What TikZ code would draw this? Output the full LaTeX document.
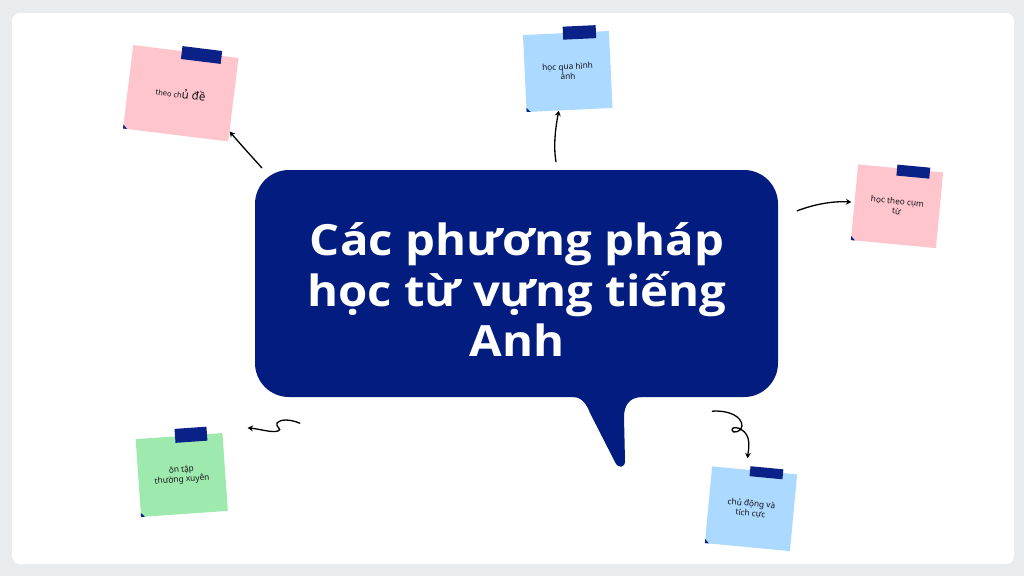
\documentclass[tikz,border=0pt]{standalone}
\usepackage{fontspec}
\setmainfont{Noto Sans}
\newfontfamily\titlefont[FakeStretch=1.1]{Open Sans}
\usetikzlibrary{arrows.meta,calc}
\definecolor{bg}{RGB}{233,236,239}
\definecolor{navy}{RGB}{2,28,128}
\definecolor{tapec}{RGB}{10,33,135}
\definecolor{notepink}{RGB}{255,197,205}
\definecolor{noteblue}{RGB}{172,217,255}
\definecolor{notegreen}{RGB}{158,234,174}
\definecolor{ink}{RGB}{20,20,25}
\begin{document}
\begin{tikzpicture}[x=1pt,y=-1pt,
  notebox/.style={inner sep=0pt, align=center, text=ink, font=\fontsize{8.3}{10}\selectfont},
  tapestrip/.style={fill=tapec},
  foldmark/.style={fill=tapec},
  conn/.style={draw=black, line width=1.3pt, line cap=round, -{Stealth[length=5.5pt,width=6pt,inset=2pt]}},
  bubblebox/.style={fill=navy, rounded corners=34pt, minimum width=523pt, minimum height=227pt, inner sep=0pt},
  titletext/.style={align=center, text=white, inner sep=0pt, font=\titlefont\bfseries\fontsize{43}{50.5}\selectfont}]
\useasboundingbox (0,0) rectangle (1024,576);
\fill[bg] (0,0) rectangle (1024,576);
\fill[white, rounded corners=8pt] (12,13) rectangle (1014,564);

% note 1
\begin{scope}[shift={(180.75,93.25)},rotate=-7,transform shape]
  \node[notebox, fill=notepink, minimum width=106pt, minimum height=84pt] (n1) at (0,0)
    {{\fontsize{7.5}{10}\selectfont theo ch}{\fontsize{11.5}{10}\selectfont ủ đề}};
  \fill[tapestrip] (-4,-47) rectangle (36,-34);
  \fill[foldmark] (-53,38) -- (-53,42) -- (-49,42) -- cycle;
\end{scope}
% note 2
\begin{scope}[shift={(567.75,71.5)},rotate=2.7,transform shape]
  \node[notebox, fill=noteblue, minimum width=86pt, minimum height=77pt] (n2) at (0,0)
    {học qua hình\\ảnh};
  \fill[tapestrip] (-3,-45) rectangle (30,-32);
  \fill[foldmark] (-43,34.5) -- (-43,38.5) -- (-39,38.5) -- cycle;
\end{scope}
% note 3
\begin{scope}[shift={(897,206.25)},rotate=-5.4,transform shape]
  \node[notebox, fill=notepink, minimum width=85.4pt, minimum height=76pt] (n3) at (0,0)
    {học theo cụm\\từ};
  \fill[tapestrip] (-3.5,-41.5) rectangle (29.5,-30.5);
  \fill[foldmark] (-42.7,34) -- (-42.7,38) -- (-38.7,38) -- cycle;
\end{scope}
% note 4
\begin{scope}[shift={(181.75,475)},rotate=4,transform shape]
  \node[notebox, fill=notegreen, minimum width=87pt, minimum height=78pt] (n4) at (0,0)
    {ôn tập\\thường xuyên};
  \fill[tapestrip] (-4,-46.5) rectangle (28,-32.5);
  \fill[foldmark] (-43.5,35) -- (-43.5,39) -- (-39.5,39) -- cycle;
\end{scope}
% note 5
\begin{scope}[shift={(751,508.75)},rotate=-5.4,transform shape]
  \node[notebox, fill=noteblue, minimum width=85.4pt, minimum height=77pt] (n5) at (0,0)
    {chủ động và\\tích cực};
  \fill[tapestrip] (-4.5,-42.3) rectangle (28.5,-32.3);
  \fill[foldmark] (-42.7,34.5) -- (-42.7,38.5) -- (-38.7,38.5) -- cycle;
\end{scope}

% speech bubble
\node[bubblebox] (bubble) at (516.5,283.5) {};
\fill[navy] (565,392) -- (573,397) .. controls (582,397) and (587,405) .. (590,413)
  -- (615,462) .. controls (618,469) and (625,468) .. (625,461)
  -- (624,417) .. controls (624,405) and (630,397) .. (642,397) -- (642,390) -- (565,390) -- cycle;
\node[titletext] (title) at (517,290) {Các phương pháp\\học từ vựng tiếng\\Anh};

% connector end points
\coordinate (a1) at ([shift={(7,-2)}]bubble.north west);
\coordinate (a2) at ([shift={(39.5,-8)}]bubble.north);
\coordinate (a3) at ([shift={(19,41)}]bubble.north east);
\coordinate (a4) at ([shift={(45,26)}]bubble.south west);
\coordinate (a5) at ([shift={(-66,14)}]bubble.south east);
\coordinate (t1) at ($(n1.south east)!0.12!(n1.north east)$);
\coordinate (t2) at ($(n2.south)!0.25!(n2.south west)$);
\coordinate (t4) at ([shift={(25,-5)}]n4.north east);
\coordinate (t5) at ([shift={(-7,-12)}]n5.north);

\draw[conn] (a1) .. controls (253.5,158.5) and (242,146) .. (t1);
\draw[conn] (a2) .. controls (553,145) and (556,125) .. (t2);
\draw[conn, shorten >=3pt] (a3) .. controls (815,204) and (833,201) .. (n3.west);
\draw[conn] (a4) .. controls (290,419) and (280,419) .. (277,423)
  .. controls (275,427) and (283,429) .. (278,431)
  .. controls (272,433) and (260,429) .. (t4);
\draw[conn] (a5) .. controls (728,410) and (742,416) .. (742,426)
  .. controls (742,432) and (732,434) .. (732,430)
  .. controls (732,425) and (745,428) .. (748,438)
  .. controls (750,446) and (748,452) .. (t5);
\end{tikzpicture}
\end{document}
